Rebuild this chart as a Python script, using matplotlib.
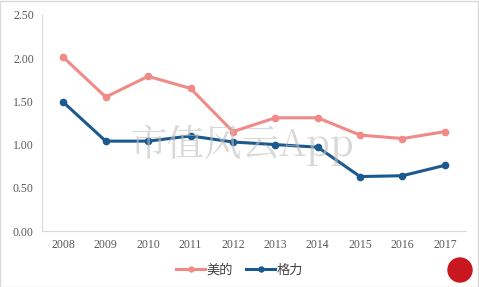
import matplotlib
matplotlib.use("Agg")
import matplotlib.pyplot as plt
from matplotlib.patches import Rectangle, Ellipse

years = ["2008", "2009", "2010", "2011", "2012", "2013", "2014", "2015", "2016", "2017"]
midea = [2.01, 1.55, 1.79, 1.65, 1.15, 1.31, 1.31, 1.11, 1.07, 1.15]
gree = [1.49, 1.04, 1.04, 1.10, 1.03, 1.00, 0.97, 0.63, 0.64, 0.76]
yticks = [0.0, 0.5, 1.0, 1.5, 2.0, 2.5]

plt.rcParams['font.family'] = ['Noto Sans CJK SC', 'DejaVu Sans']

fig = plt.figure(figsize=(4.79, 2.87), dpi=100)
ax = fig.add_axes([0.088, 0.195, 0.885, 0.753])
x = list(range(len(years)))
ax.plot(x, midea, color='#F08A87', lw=2.2, marker='o', ms=4.5, label='美的', zorder=3)
ax.plot(x, gree, color='#1B5A8E', lw=2.2, marker='o', ms=4.5, label='格力', zorder=3)

ax.set_xlim(-0.5, 9.5)
ax.set_ylim(0, 2.5)
for s in ['top', 'right']:
    ax.spines[s].set_visible(False)
ax.spines['left'].set_color('#D9D9D9')
ax.spines['bottom'].set_color('#D9D9D9')
ax.set_xticks(x)
ax.set_xticklabels(years, family='Liberation Serif', fontsize=8.5, color='#595959')
ax.set_yticks(yticks)
ax.set_yticklabels([f"{v:.2f}" for v in yticks], family='Liberation Serif', fontsize=8.5, color='#595959')
ax.tick_params(length=0, pad=6)

# watermark
fig.text(0.505, 0.495, '市值风云App', fontsize=27, color='#BFBFBF', alpha=0.6,
         ha='center', va='center', family=['Noto Serif CJK SC', 'Noto Sans CJK SC', 'DejaVu Sans'], zorder=0)

leg = fig.legend(loc='center', bbox_to_anchor=(0.5, 0.058), ncol=2, frameon=False,
                 fontsize=9.5, handlelength=2.2, columnspacing=1.0, handletextpad=0.1,
                 markerscale=0.8)
for t in leg.get_texts():
    t.set_color('#404040')

# border
fig.patches.append(Rectangle((0.001, 0.001), 0.997, 0.997, transform=fig.transFigure,
                             fill=False, edgecolor='#D9D9D9', lw=1))
# logo
fig.patches.append(Ellipse((460/479, 1-270/287), 24/479, 24/287, transform=fig.transFigure,
                           color='#C8171E'))
fig.savefig('out.png', dpi=100)
